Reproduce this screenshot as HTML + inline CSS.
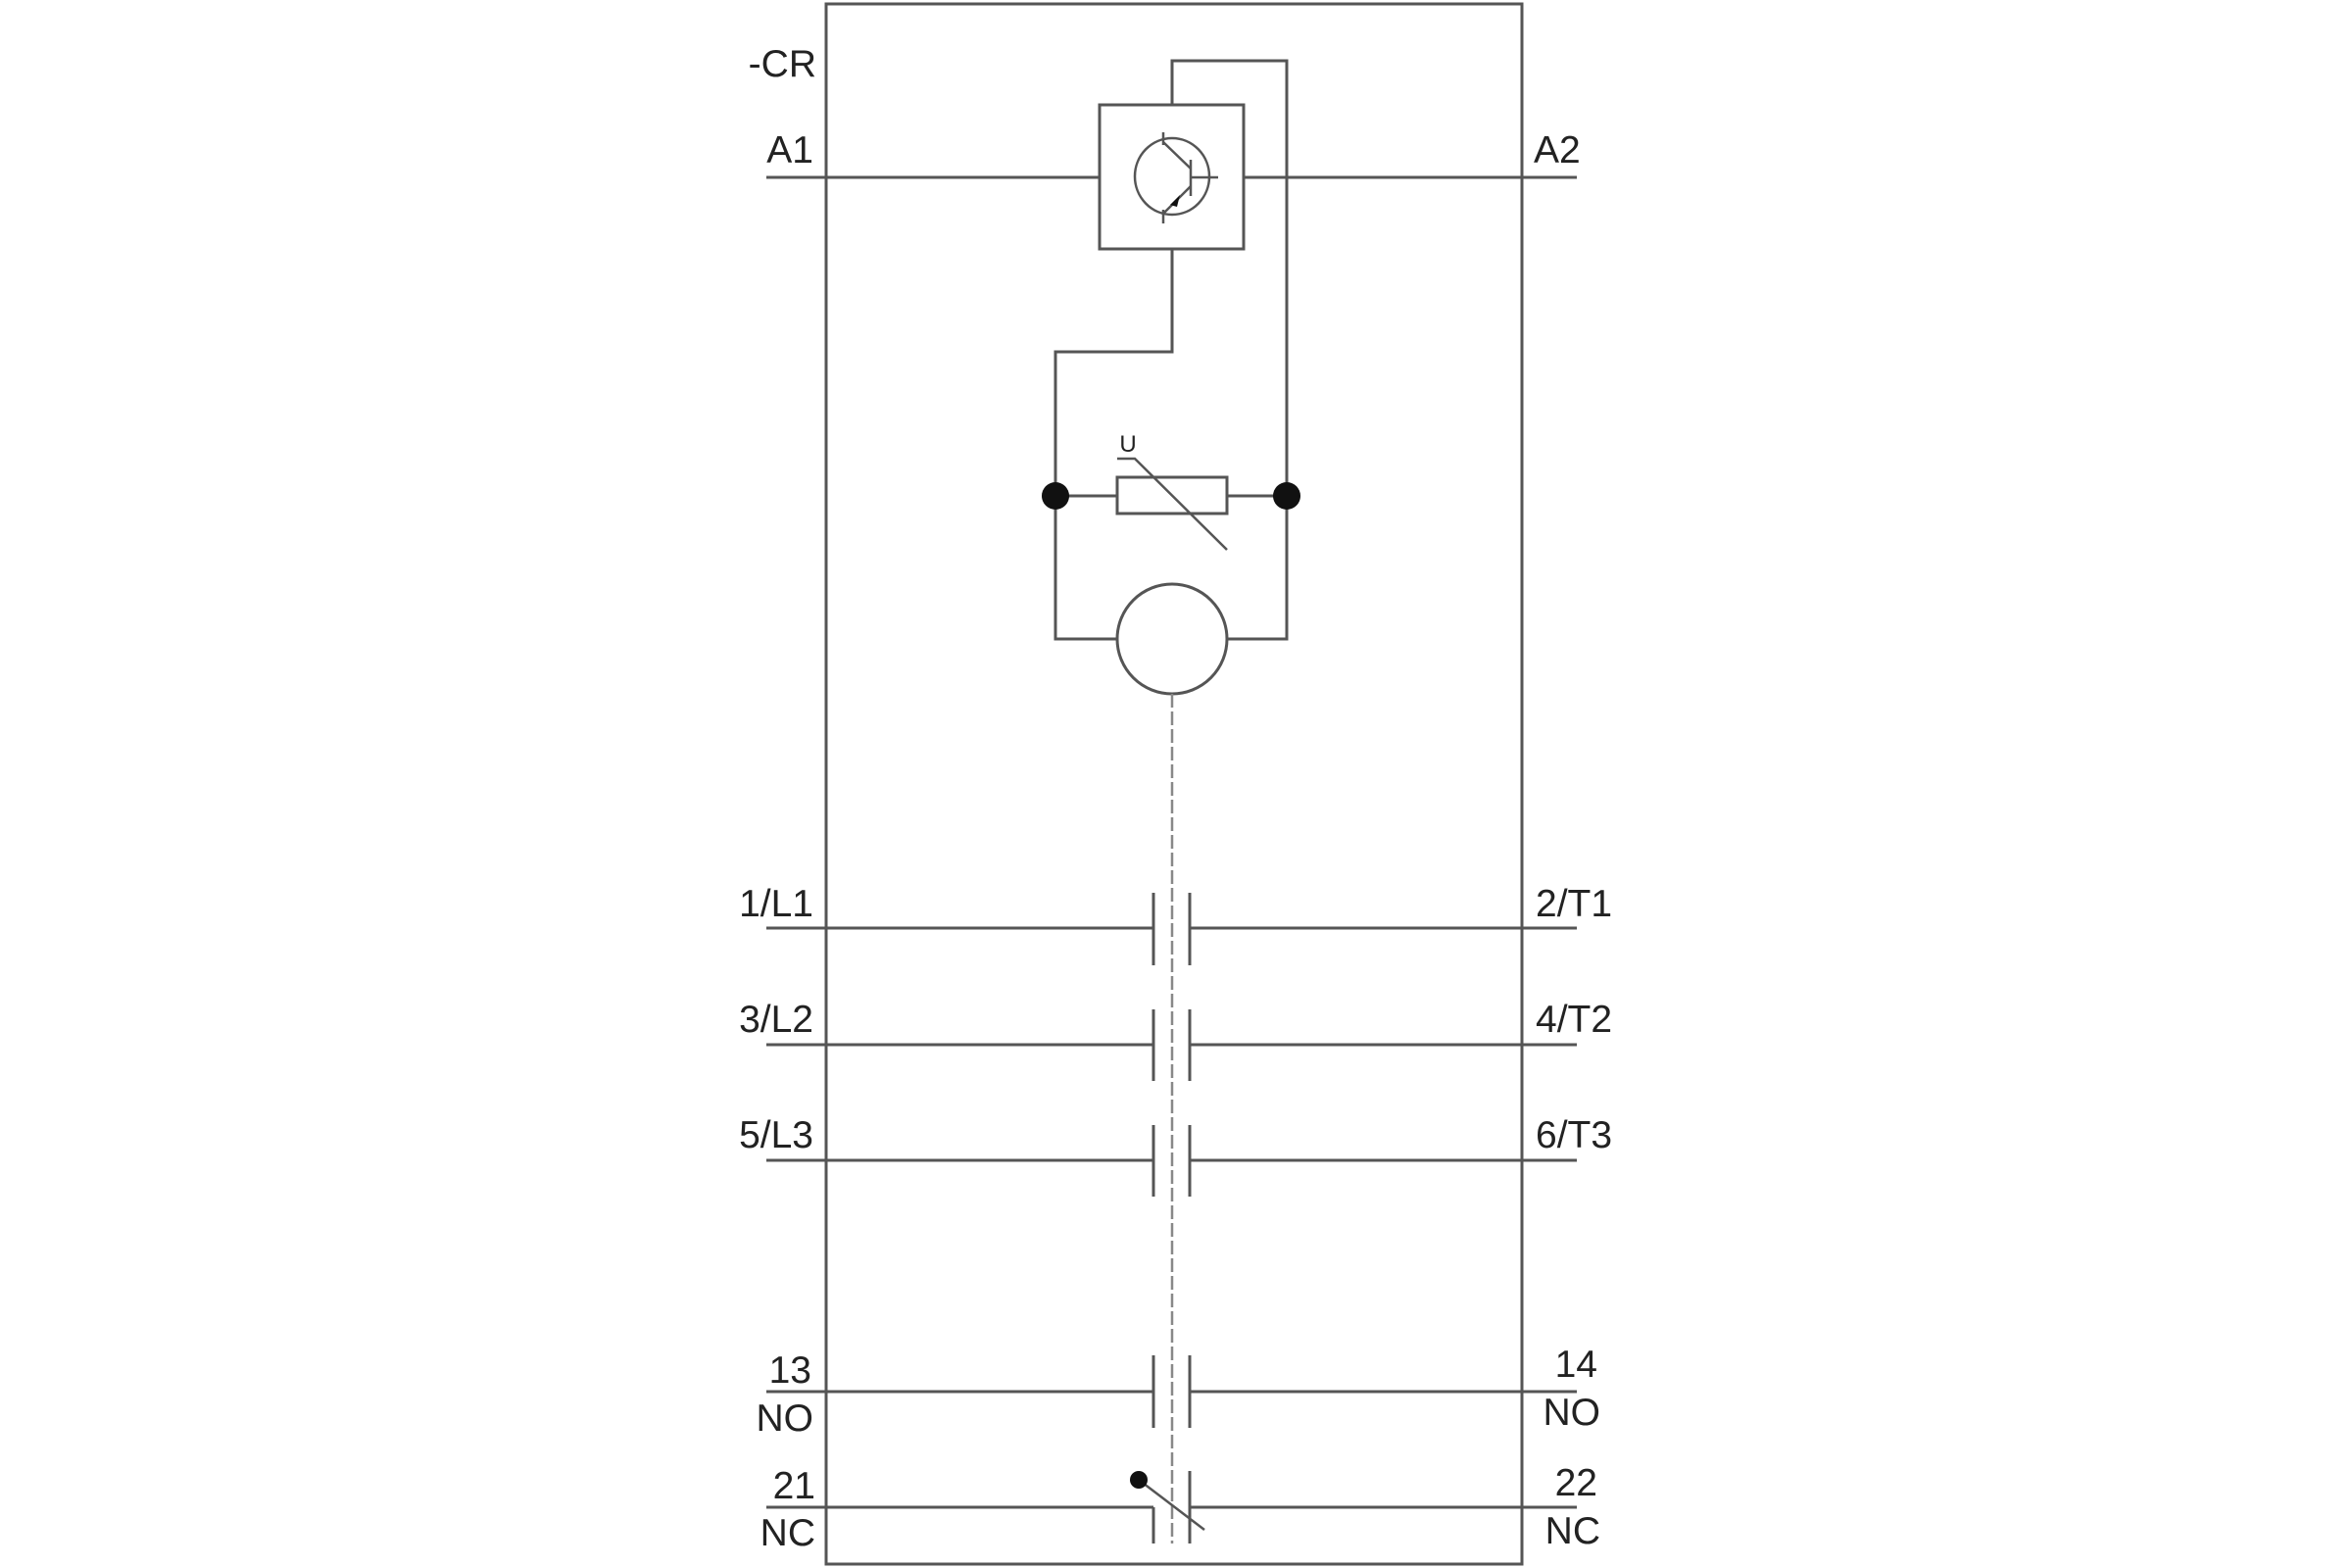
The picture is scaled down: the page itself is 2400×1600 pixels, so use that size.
<!DOCTYPE html>
<html><head><meta charset="utf-8"><style>
html,body{margin:0;padding:0;background:#fff;}
svg{display:block;}
text{font-family:"Liberation Sans",sans-serif;fill:#222;}
</style></head><body>
<svg width="2400" height="1600" viewBox="0 0 2400 1600" xmlns="http://www.w3.org/2000/svg">
<g stroke="#555" stroke-width="3" fill="none">
<rect x="843" y="4" width="710" height="1592"/>
<line x1="782" y1="181" x2="1122" y2="181"/>
<line x1="1269" y1="181" x2="1609" y2="181"/>
<rect x="1122" y="107" width="147" height="147"/>
<ellipse cx="1196" cy="180" rx="38" ry="39" stroke-width="2.5"/>
<line x1="1215" y1="163" x2="1215" y2="200" stroke-width="2.5"/>
<line x1="1215" y1="181" x2="1243" y2="181" stroke-width="2.5"/>
<line x1="1187" y1="135" x2="1187" y2="148" stroke-width="2.5"/>
<line x1="1187" y1="145" x2="1215" y2="172" stroke-width="2.5"/>
<line x1="1215" y1="190" x2="1187" y2="218" stroke-width="2.5"/>
<line x1="1187" y1="214" x2="1187" y2="228" stroke-width="2.5"/>
<polyline points="1196,107 1196,62 1313,62 1313,652 1251,652"/>
<polyline points="1196,254 1196,359 1077,359 1077,652 1140,652"/>
<line x1="1077" y1="506" x2="1140" y2="506"/>
<line x1="1252" y1="506" x2="1313" y2="506"/>
<rect x="1140" y="487" width="112" height="37"/>
<polyline points="1140,468 1158,468 1252,561" stroke-width="2.5"/>
<circle cx="1196" cy="652" r="56"/>
<line x1="1196" y1="708" x2="1196" y2="1575" stroke="#888" stroke-width="2.5" stroke-dasharray="14,4"/>
<line x1="782" y1="947" x2="1177" y2="947"/><line x1="1214" y1="947" x2="1609" y2="947"/>
<line x1="1177" y1="911" x2="1177" y2="985"/><line x1="1214" y1="911" x2="1214" y2="985"/>
<line x1="782" y1="1066" x2="1177" y2="1066"/><line x1="1214" y1="1066" x2="1609" y2="1066"/>
<line x1="1177" y1="1030" x2="1177" y2="1103"/><line x1="1214" y1="1030" x2="1214" y2="1103"/>
<line x1="782" y1="1184" x2="1177" y2="1184"/><line x1="1214" y1="1184" x2="1609" y2="1184"/>
<line x1="1177" y1="1148" x2="1177" y2="1221"/><line x1="1214" y1="1148" x2="1214" y2="1221"/>
<line x1="782" y1="1420" x2="1177" y2="1420"/><line x1="1214" y1="1420" x2="1609" y2="1420"/>
<line x1="1177" y1="1383" x2="1177" y2="1457"/><line x1="1214" y1="1383" x2="1214" y2="1457"/>
<line x1="782" y1="1538" x2="1177" y2="1538"/><line x1="1214" y1="1538" x2="1609" y2="1538"/>
<line x1="1177" y1="1538" x2="1177" y2="1575"/><line x1="1214" y1="1501" x2="1214" y2="1575"/>
<line x1="1162" y1="1510" x2="1229" y2="1561" stroke-width="2.5"/>
</g>
<g fill="#111">
<circle cx="1077" cy="506" r="14"/>
<circle cx="1313" cy="506" r="14"/>
<circle cx="1162" cy="1510" r="9"/>
<polygon points="1194,209 1204,199 1201,211"/>
</g>
<g font-size="39">
<text x="833" y="78" text-anchor="end">-CR</text>
<text x="830" y="166" text-anchor="end">A1</text>
<text x="1565" y="166">A2</text>
<text x="830" y="935" text-anchor="end">1/L1</text>
<text x="830" y="1053" text-anchor="end">3/L2</text>
<text x="830" y="1171" text-anchor="end">5/L3</text>
<text x="1567" y="935">2/T1</text>
<text x="1567" y="1053">4/T2</text>
<text x="1567" y="1171">6/T3</text>
<text x="828" y="1411" text-anchor="end">13</text>
<text x="830" y="1460" text-anchor="end">NO</text>
<text x="1630" y="1405" text-anchor="end">14</text>
<text x="1633" y="1454" text-anchor="end">NO</text>
<text x="832" y="1529" text-anchor="end">21</text>
<text x="832" y="1577" text-anchor="end">NC</text>
<text x="1630" y="1526" text-anchor="end">22</text>
<text x="1633" y="1575" text-anchor="end">NC</text>
</g>
<text x="1151" y="461" font-size="24" text-anchor="middle">U</text>
</svg>
</body></html>
